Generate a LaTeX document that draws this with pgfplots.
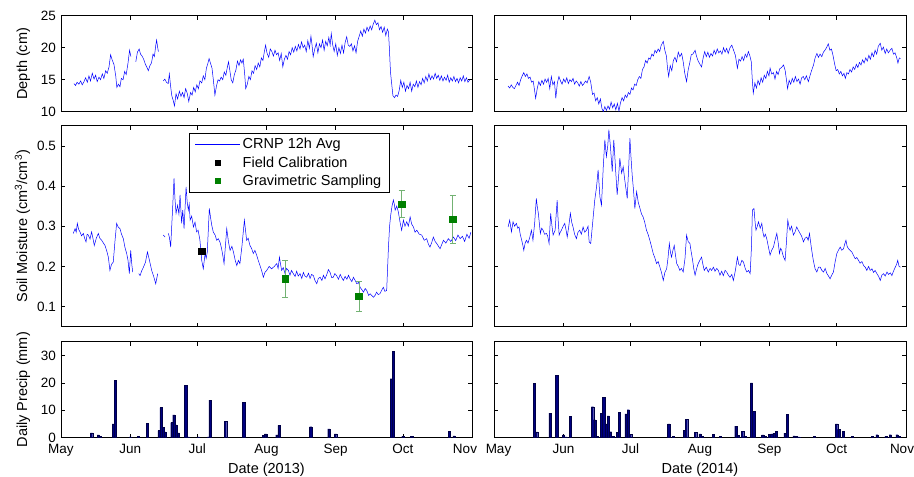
\documentclass[border=0pt]{standalone}
\usepackage{fontspec}
\setmainfont{Liberation Sans}
\usepackage{pgfplots}
\pgfplotsset{compat=1.18}
\definecolor{mblue}{rgb}{0,0,1}
\definecolor{navy}{rgb}{0,0,0.5}
\definecolor{mgreen}{rgb}{0,0.5,0}
\definecolor{errgreen}{rgb}{0.45,0.7,0.45}
\pgfplotsset{
  panel/.style={
    scale only axis, anchor=south west,
    axis line style={black, line width=0.6pt},
    tick style={black, line width=0.5pt},
    major tick length=4pt, tick align=inside,
    xtick pos=both, ytick pos=both,
    xmin=0, xmax=184,
    xtick={0,31,61,92,123,153,184},
    xticklabels={},
    tick label style={font=\fontsize{13.5}{16}\selectfont},
    /pgf/number format/assume math mode=true,
    yticklabel style={xshift=-1.5pt},
    xticklabel style={anchor=base, yshift=-16pt},
    every axis y label/.style={at={(axis description cs:-0.0827,0.5)}, rotate=90, anchor=base, font=\fontsize{14.5}{17}\selectfont},
    every axis x label/.style={at={(axis description cs:0.5,0)}, anchor=base, yshift=-36.3pt, font=\fontsize{14.5}{17}\selectfont},
    unbounded coords=jump,
  },
  depthp/.style={panel, width=#1, height=96pt, ymin=10, ymax=25, ytick={10,15,20,25}},
  smp/.style={panel, width=#1, height=201pt, ymin=0.05, ymax=0.55, ytick={0.1,0.2,0.3,0.4,0.5},
    yticklabels={0.1,0.2,0.3,0.4,0.5}},
  prp/.style={panel, width=#1, height=96pt, ymin=0, ymax=35, ytick={0,10,20,30}},
  ln/.style={mblue, line width=0.5pt, no markers},
  br/.style={ybar, bar width=1, bar shift=0pt, fill=navy, draw=navy!55!black, line width=0.25pt},
}
\begin{document}
\begin{tikzpicture}
\useasboundingbox (0,0) rectangle (914pt,477pt);
% ---------------- 2013 depth
\begin{axis}[depthp=411pt, at={(61pt,365.3pt)}, ylabel={Depth (cm)}]
\addplot[ln] coordinates {
(5.8,14.4)(6.5,14.1)(7.2,14.6)(8.0,14.3)(8.8,14.8)(9.5,14.2)(10.3,14.7)(11.0,15.3)(11.8,14.6)(12.5,15.6)(13.2,14.8)(14.0,16.0)(14.8,15.1)(15.5,15.7)(16.2,14.7)(17.0,15.4)(17.7,15.0)(18.5,15.9)(19.2,15.2)(20.0,16.4)(20.7,16.0)(21.5,17.0)(22.2,18.9)(23.0,18.0)(23.7,17.4)(24.5,15.6)(25.0,13.8)(25.7,14.3)(26.4,13.9)(27.0,15.2)(27.8,15.0)(28.5,16.3)(29.2,15.8)(30.0,17.6)(30.7,19.6)(31.3,18.6)(32.3,nan)
(33.5,17.8)(34.2,19.3)(35.0,19.8)(35.6,19.0)(36.3,18.7)(37.0,18.2)(37.8,17.4)(38.5,16.9)(39.1,16.4)(39.8,17.2)(40.5,17.6)(41.2,19.0)(41.8,18.6)(42.4,20.3)(42.8,21.2)(43.3,20.0)(43.6,19.4)(44.5,nan)
(45.8,14.8)(46.5,15.1)(47.2,14.6)(48.0,14.4)(48.5,15.9)(49.0,14.2)(49.6,12.5)(50.2,11.8)(50.8,10.9)(51.5,12.8)(52.2,12.0)(53.0,13.2)(53.7,12.4)(54.4,13.0)(55.1,12.2)(55.8,13.6)(56.5,12.9)(57.2,11.6)(58.0,13.0)(58.7,12.6)(59.4,13.8)(60.1,13.1)(60.8,14.2)(61.5,13.6)(62.2,14.8)(63.0,14.5)(63.7,15.6)(64.4,15.0)(65.1,16.8)(65.8,17.6)(66.3,18.3)(67.0,17.5)(67.6,16.8)(68.2,15.0)(68.9,12.6)(69.6,14.0)(70.3,15.0)(71.0,14.8)(71.7,15.4)(72.4,15.0)(73.1,16.2)(73.8,15.7)(74.5,17.0)(75.0,17.8)(75.6,16.4)(76.2,15.0)(76.9,14.5)(77.6,15.8)(78.3,16.5)(79.0,17.9)(79.7,17.2)(80.4,18.1)(81.0,17.6)(81.6,18.2)(82.2,16.0)(82.7,13.6)(83.4,14.3)(84.1,15.5)(84.8,15.0)(85.5,16.4)(86.2,16.0)(86.9,17.2)(87.6,16.6)(88.3,17.6)(89.0,17.0)(89.7,18.4)(90.4,18.0)(91.0,19.3)(91.6,20.4)(92.2,19.2)
(93.0,18.5)(93.7,19.8)(94.4,19.4)(95.1,18.7)(95.8,19.6)(96.5,18.9)(97.2,19.2)(97.9,18.0)(98.6,19.1)(99.3,17.0)(100.0,18.2)(100.7,18.8)(101.4,18.2)(102.1,19.4)(102.8,18.9)(103.5,20.0)(104.2,19.3)(104.9,20.2)(105.6,19.5)(106.3,20.5)(107.0,19.8)(107.7,20.9)(108.4,20.0)(109.1,20.4)(109.8,19.4)(110.5,21.1)(111.2,19.9)(111.9,21.8)(112.4,20.4)(112.9,18.6)(113.6,19.8)(114.3,20.7)(115.0,19.2)(115.7,20.6)(116.4,20.0)(117.1,21.2)(117.8,19.6)(118.5,21.0)(119.2,20.3)(119.9,21.6)(120.5,20.4)(121.0,22.2)(121.6,20.5)(122.3,19.4)(123.0,20.6)(123.7,18.8)(124.4,20.0)(125.1,19.1)(125.8,20.4)(126.5,19.2)(127.2,20.8)(127.9,21.7)(128.6,20.4)(129.3,20.2)(130.0,20.6)(130.7,19.5)(131.4,20.3)(132.1,19.2)(132.8,21.0)(133.5,21.8)(134.2,22.6)(134.9,21.8)(135.6,22.9)(136.3,22.3)(137.0,23.2)(137.7,22.6)(138.4,23.4)(139.1,22.8)(139.8,23.7)(140.5,24.3)(141.2,23.6)(141.9,23.9)(142.6,22.8)(143.3,23.3)(144.0,22.4)(144.7,23.2)(145.4,21.9)(146.1,22.9)(146.6,22.5)(147.0,20.0)(147.5,16.2)(148.0,14.5)(148.6,12.5)(149.3,12.2)(150.0,12.6)(150.7,12.4)(151.4,13.3)(152.1,14.9)(152.8,13.8)(153.5,14.6)(154.2,13.2)(154.9,14.1)(155.6,13.6)(156.3,14.6)(157.0,13.2)(157.7,14.3)(158.4,13.9)(159.1,14.8)(159.8,13.8)(160.5,14.7)(161.2,14.2)(161.9,15.2)(162.6,14.5)(163.3,15.5)(164.0,14.8)(164.7,15.9)(165.4,15.0)(166.1,15.6)(166.8,15.1)(167.5,16.0)(168.2,15.2)(168.9,15.7)(169.6,14.9)(170.3,15.6)(171.0,14.8)(171.7,15.4)(172.4,14.9)(173.1,15.7)(173.8,14.6)(174.5,15.3)(175.2,14.8)(175.9,15.5)(176.6,14.7)(177.3,15.2)(178.0,14.5)(178.7,15.3)(179.4,14.8)(180.1,15.6)(180.8,14.7)(181.5,15.3)(182.2,14.6)(183.0,15.0)
};
\end{axis}
% ---------------- 2014 depth
\begin{axis}[depthp=412pt, at={(494pt,365.3pt)}, yticklabels={}]
\addplot[ln] coordinates {
(6.3,14.0)(7.0,13.7)(7.7,14.2)(8.4,13.8)(9.1,13.6)(9.8,14.1)(10.5,14.6)(11.2,14.1)(11.9,15.0)(12.6,15.6)(13.3,16.1)(14.0,15.5)(14.7,15.9)(15.4,15.2)(16.1,15.4)(16.8,14.6)(17.5,14.8)(18.1,13.4)(18.6,12.1)(19.3,13.6)(20.0,14.7)(20.7,14.1)(21.4,14.9)(22.1,14.3)(22.8,15.1)(23.5,14.6)(24.2,15.2)(24.9,13.6)(25.6,15.5)(26.3,14.2)(27.0,14.7)(27.6,12.1)(28.3,14.5)(29.0,15.5)(29.7,14.8)(30.4,14.3)(31.1,15.1)(31.8,14.6)(32.5,15.3)(33.2,14.4)(33.9,15.0)(34.6,14.7)(35.3,15.2)(36.0,14.3)(36.7,14.8)(37.4,14.5)(38.1,14.0)(38.8,14.7)(39.5,14.1)(40.2,14.4)(40.9,14.8)(41.6,14.5)(42.5,15.5)(43.2,14.6)(44.0,12.7)(44.7,12.9)(45.4,11.7)(46.1,12.2)(46.8,11.2)(47.5,12.0)(48.2,10.5)(48.8,10.0)(49.5,10.8)(50.2,10.2)(50.9,10.9)(51.6,10.4)(52.3,11.5)(53.0,10.6)(53.7,11.2)(54.4,10.3)(55.1,11.3)(55.8,10.1)(56.5,11.4)(57.2,12.2)(57.9,11.7)(58.6,12.6)(59.3,12.2)(60.0,13.0)(60.7,12.7)(61.4,13.7)(62.1,13.4)(62.8,14.3)(63.5,14.1)(64.2,15.0)(64.9,15.5)(65.6,15.2)(66.3,16.6)(67.0,17.0)(67.7,18.0)(68.4,17.6)(69.1,18.4)(69.8,18.2)(70.5,19.0)(71.2,18.7)(71.9,19.6)(72.6,19.2)(73.3,19.8)(74.0,19.4)(74.6,20.3)(75.6,21.0)(76.3,19.6)(77.0,18.7)(77.5,16.8)(78.0,15.5)(78.7,17.2)(79.4,16.4)(80.1,18.0)(80.8,18.5)(81.5,17.8)(82.3,19.3)(83.0,18.6)(83.8,19.1)(84.5,17.8)(85.2,16.0)(86.0,14.7)(86.7,16.5)(87.4,17.6)(88.1,18.9)(88.8,19.0)(89.8,19.6)(90.5,18.6)(91.2,17.9)(92.0,17.4)(92.7,17.0)(93.4,18.4)(94.1,19.4)(94.8,18.6)(95.5,19.3)(96.2,18.5)(96.9,19.1)(97.6,18.7)(98.3,19.6)(99.0,19.0)(99.7,19.8)(100.4,19.2)(101.1,19.5)(101.8,19.0)(102.5,20.0)(103.2,19.3)(103.9,19.9)(104.6,19.1)(105.4,20.0)(106.2,20.4)(107.0,19.6)(107.8,18.8)(108.7,16.8)(109.4,18.2)(110.1,17.9)(110.8,18.6)(111.5,18.0)(112.2,19.0)(112.9,18.5)(113.6,19.4)(114.3,18.7)(114.9,17.8)(115.4,14.7)(115.8,12.9)(116.5,14.5)(117.2,13.7)(117.9,14.9)(118.6,14.2)(119.3,15.3)(120.0,14.6)(120.7,15.7)(121.4,15.2)(122.1,16.3)(122.8,15.6)(123.3,16.8)(124.0,15.9)(124.8,16.1)(125.5,15.1)(126.2,16.3)(126.9,15.8)(127.6,16.7)(128.4,16.9)(129.3,17.3)(130.0,16.5)(130.6,15.0)(131.1,13.6)(131.8,14.9)(132.5,14.3)(133.2,15.2)(133.9,14.6)(134.6,15.5)(135.3,14.7)(136.0,15.1)(136.7,14.3)(137.4,15.3)(138.1,15.5)(138.8,15.0)(139.5,15.6)(140.4,14.7)(141.1,15.6)(141.8,16.4)(142.7,17.3)(143.4,18.4)(144.2,19.1)(144.9,18.5)(145.6,19.0)(146.4,18.6)(147.1,19.3)(147.8,19.6)(148.5,20.0)(149.3,20.6)(150.0,19.6)(150.7,19.8)(151.4,18.8)(152.1,17.5)(152.8,16.4)(153.5,16.6)(154.2,15.9)(154.9,16.3)(155.6,15.6)(156.3,16.0)(156.9,15.2)(157.6,16.1)(158.3,15.9)(159.0,16.6)(159.7,16.2)(160.4,17.0)(161.1,16.6)(161.8,17.4)(162.5,16.9)(163.2,17.7)(163.9,17.3)(164.6,18.1)(165.3,17.6)(166.0,18.4)(166.7,17.9)(167.4,18.8)(168.1,18.2)(168.8,19.2)(169.5,18.6)(170.2,19.6)(170.9,19.0)(171.6,20.2)(172.5,20.7)(173.2,19.6)(173.9,20.1)(174.7,19.1)(175.4,19.8)(176.1,19.2)(176.9,19.6)(177.7,19.9)(178.4,19.0)(179.1,19.2)(179.8,18.5)(180.4,17.6)(181.0,18.4)(181.5,18.3)
};
\end{axis}
% ---------------- 2013 soil moisture
\begin{axis}[smp=411pt, at={(61pt,150.3pt)}, ylabel={Soil Moisture (cm\textsuperscript{3}/cm\textsuperscript{3})},
  legend style={at={(0.311,0.965)}, anchor=north west, draw=black, line width=0.6pt, fill=white,
    font=\fontsize{14.5}{16}\selectfont, inner xsep=6pt, inner ysep=3pt, row sep=2.5pt,
    /tikz/every even column/.append style={column sep=7pt}},
  legend cell align=left]
\addplot[ln, legend image code/.code={\draw[mblue,line width=0.5pt] (0pt,0pt) -- (45pt,0pt);}] coordinates {
(5.5,0.282)(6.3,0.294)(6.8,0.285)(7.3,0.307)(7.9,0.292)(8.5,0.286)(9.2,0.276)(10.0,0.282)(10.6,0.27)(11.2,0.261)(11.7,0.28)(12.2,0.278)(13.0,0.268)(13.7,0.286)(14.3,0.27)(14.9,0.252)(15.8,0.27)(16.7,0.282)(17.4,0.27)(18.2,0.265)(19.0,0.258)(19.7,0.252)(20.5,0.238)(21.2,0.223)(21.9,0.19)(22.6,0.205)(23.4,0.211)(24.2,0.265)(24.9,0.307)(25.6,0.298)(26.4,0.294)(27.1,0.28)(27.9,0.269)(28.6,0.248)(29.4,0.232)(30.0,0.215)(30.6,0.182)(31.2,0.24)(31.7,0.205)(32.1,0.186)(32.6,nan)
(34.8,0.182)(35.4,0.177)(36.2,0.19)(36.9,0.198)(37.8,0.21)(38.7,0.236)(39.6,0.215)(40.6,0.19)(41.5,0.175)(42.4,0.157)(43.3,0.182)(44.5,nan)
(45.8,0.278)(46.6,0.273)(47.3,nan)
(48.1,0.282)(48.6,0.27)(49.1,0.248)(50.0,0.348)(50.6,0.419)(51.0,0.37)(51.5,0.332)(52.2,0.352)(52.8,0.33)(53.3,0.378)(54.0,0.307)(54.5,0.34)(55.1,0.294)(56.0,0.398)(56.5,0.36)(57.0,0.34)(57.4,0.355)(57.8,0.315)(58.5,0.325)(59.3,0.298)(60.0,0.31)(60.7,0.286)(61.4,0.29)(62.2,0.265)(63.0,0.215)(63.7,0.194)(64.5,0.232)(65.0,0.22)(65.5,0.236)(66.4,0.344)(67.0,0.32)(67.5,0.302)(68.2,0.285)(69.0,0.278)(69.7,0.265)(70.4,0.269)(71.2,0.26)(71.9,0.244)(72.5,0.225)(73.0,0.207)(73.6,0.25)(74.2,0.294)(75.0,0.26)(75.7,0.24)(76.5,0.25)(77.2,0.236)(78.0,0.215)(78.7,0.202)(79.4,0.215)(80.1,0.207)(81.0,0.25)(82.1,0.315)(82.6,0.29)(83.1,0.265)(83.8,0.27)(84.6,0.252)(85.3,0.245)(86.1,0.232)(86.8,0.24)(87.6,0.228)(88.3,0.215)(89.1,0.202)(89.8,0.19)(90.6,0.173)(91.3,0.185)(92.1,0.19)(93.2,0.2)(94.3,0.194)(95.5,0.2)(96.6,0.207)(97.2,0.195)(97.8,0.223)(98.3,0.205)(98.8,0.19)(99.5,0.197)(100.3,0.182)(101.0,0.195)(101.8,0.19)(102.5,0.178)(103.2,0.19)(104.0,0.182)(104.8,0.175)(105.5,0.188)(106.2,0.176)(107.0,0.182)(107.8,0.17)(108.5,0.185)(109.2,0.176)(110.0,0.173)(110.8,0.183)(111.5,0.17)(112.2,0.18)(113.0,0.177)(113.7,0.165)(114.5,0.157)(115.2,0.17)(116.0,0.173)(116.8,0.165)(117.5,0.178)(118.2,0.169)(119.0,0.18)(119.7,0.192)(120.4,0.186)(121.2,0.172)(121.9,0.173)(122.6,0.182)(123.4,0.177)(124.2,0.168)(125.0,0.18)(125.7,0.172)(126.4,0.165)(127.2,0.175)(128.0,0.168)(128.7,0.178)(129.4,0.169)(130.2,0.162)(130.9,0.173)(131.7,0.165)(132.4,0.157)(133.2,0.16)(133.9,0.148)(134.7,0.142)(135.4,0.136)(136.2,0.145)(136.9,0.14)(137.7,0.128)(138.4,0.132)(139.2,0.127)(139.9,0.123)(140.6,0.128)(141.3,0.136)(142.0,0.13)(142.8,0.132)(143.5,0.14)(144.3,0.148)(145.0,0.138)(145.8,0.14)(146.6,0.248)(147.1,0.3)(147.6,0.327)(148.2,0.35)(148.8,0.365)(149.2,0.355)(149.6,0.34)(150.3,0.35)(151.0,0.336)(151.8,0.31)(152.5,0.29)(153.3,0.315)(154.0,0.3)(154.8,0.311)(155.5,0.3)(156.3,0.323)(157.0,0.305)(157.8,0.298)(158.5,0.285)(159.3,0.29)(160.4,0.28)(161.5,0.278)(162.6,0.265)(163.7,0.269)(164.5,0.255)(165.2,0.248)(166.0,0.26)(166.7,0.273)(167.5,0.262)(168.2,0.257)(169.0,0.25)(169.7,0.244)(170.5,0.255)(171.2,0.265)(172.3,0.258)(173.4,0.269)(174.5,0.262)(175.7,0.273)(176.7,0.264)(177.7,0.278)(178.7,0.269)(179.7,0.275)(180.7,0.262)(181.7,0.28)(182.7,0.27)(183.5,0.285)
};
\addlegendentry{CRNP 12h Avg}
\addplot[only marks, mark=square*, mark size=3.3pt, black,
  legend image code/.code={\path (0pt,0pt) (45pt,0pt); \draw[black] plot[only marks, mark=square*, mark size=2.4pt] coordinates {(22.5pt,0pt)};}]
  coordinates {(63.1,0.2375)};
\addlegendentry{Field Calibration}
\addplot[only marks, mark=square*, mark size=3.3pt, mgreen,
  legend image code/.code={\path (0pt,0pt) (45pt,0pt); \draw[mgreen] plot[only marks, mark=square*, mark size=2.4pt] coordinates {(22.5pt,0pt)};},
  error bars/.cd, y dir=both, y explicit,
  error bar style={errgreen, line width=0.6pt},
  error mark options={rotate=90, mark size=3pt, errgreen, line width=0.6pt}]
  coordinates {(100.3,0.169) +- (0,0.047) (133.4,0.126) +- (0,0.038) (152.5,0.355) +- (0,0.034) (175.4,0.317) +- (0,0.059)};
\addlegendentry{Gravimetric Sampling}
\end{axis}
% ---------------- 2014 soil moisture
\begin{axis}[smp=412pt, at={(494pt,150.3pt)}, yticklabels={}]
\addplot[ln] coordinates {
(6.3,0.298)(7.0,0.315)(7.8,0.286)(8.5,0.311)(9.2,0.3)(10.0,0.307)(10.6,0.295)(11.2,0.298)(11.7,0.28)(12.2,0.269)(12.8,0.255)(13.3,0.24)(13.9,0.258)(14.5,0.265)(15.2,0.258)(16.0,0.273)(16.7,0.29)(17.4,0.265)(18.2,0.311)(18.9,0.369)(19.3,0.35)(19.8,0.332)(20.2,0.31)(20.7,0.282)(21.3,0.295)(21.9,0.29)(22.6,0.28)(23.4,0.282)(24.0,0.275)(24.6,0.257)(25.3,0.332)(25.9,0.3)(26.4,0.278)(27.3,0.29)(28.2,0.365)(28.6,0.32)(29.1,0.278)(29.6,0.285)(30.1,0.29)(30.9,0.3)(31.6,0.307)(32.2,0.29)(32.7,0.273)(33.4,0.3)(34.1,0.332)(34.7,0.31)(35.3,0.298)(36.0,0.28)(36.8,0.269)(37.5,0.285)(38.3,0.29)(39.0,0.28)(39.8,0.298)(40.5,0.285)(41.3,0.29)(42.0,0.3)(42.5,0.261)(43.2,0.257)(44.3,0.323)(45.0,0.365)(45.8,0.398)(46.5,0.44)(47.3,0.373)(48.0,0.352)(48.8,0.448)(49.5,0.515)(50.2,0.473)(50.8,0.5)(51.3,0.54)(52.0,0.498)(52.8,0.436)(53.5,0.515)(54.0,0.47)(54.4,0.432)(55.0,0.378)(55.6,0.42)(56.2,0.469)(57.0,0.432)(57.7,0.448)(58.4,0.415)(59.0,0.39)(59.5,0.369)(60.1,0.44)(60.7,0.519)(61.2,0.47)(61.7,0.428)(62.3,0.39)(62.9,0.344)(63.7,0.386)(64.4,0.36)(65.2,0.344)(65.9,0.33)(66.6,0.323)(67.3,0.31)(68.1,0.29)(68.8,0.28)(69.6,0.265)(70.3,0.25)(71.1,0.232)(71.8,0.222)(72.6,0.207)(73.3,0.212)(74.1,0.198)(74.8,0.185)(75.6,0.165)(76.3,0.185)(77.1,0.194)(77.7,0.22)(78.3,0.257)(78.8,0.235)(79.3,0.223)(79.9,0.24)(80.5,0.252)(81.0,0.23)(81.6,0.207)(82.3,0.2)(83.0,0.19)(83.7,0.195)(84.5,0.186)(85.3,0.22)(86.0,0.278)(86.7,0.262)(87.5,0.257)(88.1,0.235)(88.7,0.215)(89.2,0.195)(89.8,0.178)(90.5,0.195)(91.2,0.207)(91.9,0.215)(92.7,0.223)(93.3,0.205)(93.9,0.19)(94.8,0.198)(95.7,0.186)(96.5,0.195)(97.2,0.19)(98.0,0.198)(98.7,0.188)(99.5,0.195)(100.2,0.19)(100.9,0.178)(101.7,0.188)(102.4,0.177)(103.2,0.19)(103.9,0.186)(104.7,0.178)(105.4,0.173)(106.2,0.18)(106.9,0.165)(107.8,0.19)(108.7,0.223)(109.3,0.205)(109.9,0.202)(110.7,0.215)(111.4,0.211)(112.2,0.195)(112.9,0.186)(113.7,0.19)(114.4,0.182)(115.0,0.25)(115.4,0.34)(116.1,0.344)(116.6,0.31)(117.0,0.29)(117.6,0.3)(118.1,0.311)(118.9,0.295)(119.6,0.307)(120.1,0.285)(120.6,0.273)(121.2,0.28)(121.8,0.269)(122.5,0.25)(123.3,0.228)(124.0,0.24)(124.8,0.248)(125.5,0.265)(126.3,0.282)(126.9,0.26)(127.5,0.232)(128.0,0.245)(128.5,0.24)(129.2,0.225)(130.0,0.215)(130.6,0.26)(131.2,0.315)(131.7,0.3)(132.2,0.29)(132.9,0.3)(133.7,0.278)(134.4,0.285)(135.2,0.298)(135.9,0.29)(136.7,0.282)(137.4,0.275)(138.2,0.261)(138.9,0.27)(139.7,0.273)(140.3,0.265)(140.9,0.282)(141.4,0.26)(141.9,0.24)(142.6,0.215)(143.4,0.194)(144.2,0.186)(144.9,0.198)(145.7,0.198)(146.4,0.19)(147.2,0.186)(147.9,0.195)(148.7,0.182)(149.4,0.176)(150.1,0.169)(150.8,0.178)(151.6,0.186)(152.3,0.21)(153.1,0.232)(153.8,0.24)(154.6,0.248)(155.3,0.24)(156.1,0.244)(156.6,0.255)(157.2,0.265)(157.7,0.25)(158.3,0.244)(159.0,0.24)(159.8,0.236)(160.5,0.228)(161.3,0.219)(162.0,0.222)(162.8,0.215)(163.5,0.208)(164.3,0.212)(165.1,0.202)(165.8,0.198)(166.5,0.19)(167.3,0.2)(168.0,0.19)(168.8,0.194)(169.5,0.185)(170.2,0.19)(171.0,0.182)(171.8,0.175)(172.5,0.165)(173.2,0.178)(174.0,0.182)(174.7,0.176)(175.5,0.186)(176.2,0.18)(177.0,0.184)(177.7,0.177)(178.4,0.188)(179.2,0.198)(179.8,0.205)(180.3,0.215)(180.9,0.2)(181.5,0.198)
};
\end{axis}
% ---------------- 2013 precip
\begin{axis}[prp=411pt, at={(61pt,39.3pt)}, ylabel={Daily Precip (mm)}, xlabel={Date (2013)},
  xticklabels={May,Jun,Jul,Aug,Sep,Oct,\hspace*{-14pt}Nov}]
\addplot[br] coordinates {
(13.7,1.8)(16.7,1.0)(17.6,0.5)(23.4,5)(24.4,21)(31.0,0.3)(34.6,0.4)(38.6,5.3)(43.9,2.6)(44.8,11)(45.6,3.8)(46.5,2.1)(49.6,5.5)(50.5,8.3)(51.4,4.7)(52.5,1.8)(55.8,19)(57,0.3)(61.5,0.3)(66.0,0.3)(66.7,13.7)(73.7,6)(81.8,13)(90.6,0.8)(91.6,1.4)(96.6,1.0)(97.6,4.5)(111.8,4)(119.9,3.2)(122.9,1.4)(147.9,21.5)(148.8,31.5)(153,0.5)(157,0.4)(173.8,2.4)(175.9,0.7)
};
\end{axis}
% ---------------- 2014 precip
\begin{axis}[prp=412pt, at={(494pt,39.3pt)}, yticklabels={}, xlabel={Date (2014)},
  xticklabels={May\hspace*{-9pt},Jun,Jul,Aug,Sep,Oct,\hspace*{-8pt}Nov}]
\addplot[br] coordinates {
(18,19.8)(19,2.1)(25,9)(28,22.8)(31,1.0)(32,0.3)(34,7.8)(44,11.3)(45,6.5)(46,0.5)(48,8.8)(49,14.8)(50,5.0)(51,8)(52,2.2)(53,0.5)(55,2.0)(56,9.3)(59,8.7)(60,10.2)(61,1.3)(78,5)(80,0.5)(85,2.6)(86,6.8)(90,2.0)(92,1.4)(93,0.5)(98,1.2)(101,0.5)(108,4.2)(109,0.8)(111,2.4)(112,0.5)(115,20)(116,9.7)(120,1)(121,0.4)(123,1.2)(124,1.4)(125,1.6)(126,2.3)(130,1.7)(131,8.5)(134,0.7)(135,0.5)(136,0.3)(143,0.4)(153,5)(154,3.0)(156,2.4)(160,0.6)(169,0.5)(171,1.1)(175,0.4)(177,1.1)(180,1.1)(181,0.5)
};
\end{axis}
\end{tikzpicture}
\end{document}
